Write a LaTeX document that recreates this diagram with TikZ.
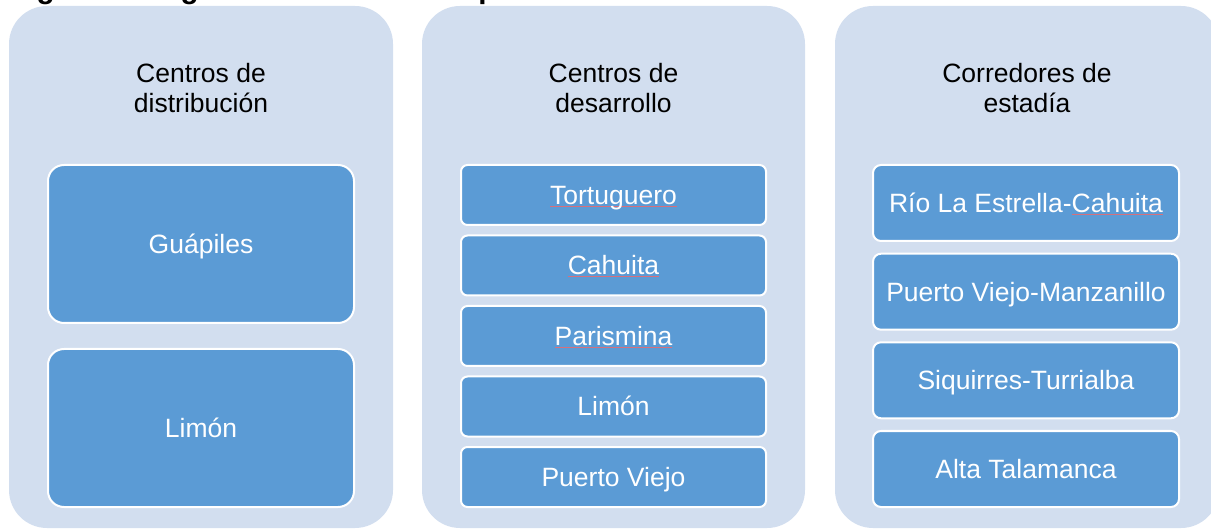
\documentclass[tikz,border=0pt]{standalone}
\usepackage{fontspec}
\setmainfont{Liberation Sans}
\definecolor{panelfill}{RGB}{210,222,239}
\definecolor{boxfill}{RGB}{91,155,213}
\definecolor{spellred}{RGB}{214,112,124}
\newcommand\spellmark[1]{\leavevmode\setbox0\hbox{#1}\rlap{\color{spellred}\vrule width\wd0 height -1.4pt depth 2.5pt}\box0}
\tikzset{
  panel/.style={fill=panelfill, draw=none, rounded corners=38pt, minimum width=384pt, minimum height=522pt, inner sep=0pt},
  hdr/.style={align=center, text=black, font=\fontsize{26.5}{30.5}\selectfont, inner sep=0pt},
  item/.style={fill=boxfill, draw=white, line width=2pt, text=white, inner sep=0pt,
    font=\fontsize{26.5}{30.5}\selectfont, text height=19pt, text depth=0pt},
  bigitem/.style={item, rounded corners=16pt, minimum width=306pt, minimum height=158pt},
  miditem/.style={item, rounded corners=6.5pt, minimum width=305pt, minimum height=60pt},
  longitem/.style={item, rounded corners=8pt, minimum width=306pt, minimum height=76pt},
  ttl/.style={font=\fontsize{29.6}{34}\selectfont\bfseries, text=black, inner sep=0pt, anchor=base west},
  spellline/.style={draw=spellred, line width=1.1pt}
}
\begin{document}
\begin{tikzpicture}[x=1pt,y=-1pt]
\useasboundingbox (0,0) rectangle (1211,529);
\clip (0,0) rectangle (1211,529);
\node[ttl] (title) at (10,-1.5) {Figura 1. Segmentación turística por centros};
% panels
\node[panel] (p1) at (201,267) {};
\node[panel, minimum width=383pt] (p2) at (613.5,267) {};
\node[panel] (p3) at (1027,267) {};
% headers
\node[hdr] (h1) at (201,88) {Centros de\\distribución};
\node[hdr] (h2) at (613.5,88) {Centros de\\desarrollo};
\node[hdr] (h3) at (1027,88) {Corredores de\\estadía};
% column 1
\node[bigitem] (a1) at (201,244) {Guápiles};
\node[bigitem] (a2) at (201,428) {Limón};
% column 2
\node[miditem] (b1) at (613.5,195) {\spellmark{Tortuguero}};
\node[miditem] (b2) at (613.5,265.5) {\spellmark{Cahuita}};
\node[miditem] (b3) at (613.5,336) {Parismina};
\node[miditem] (b4) at (613.5,406.5) {Limón};
\node[miditem] (b5) at (613.5,477) {Puerto Viejo};
\coordinate (u1) at ([xshift=-58.9pt,yshift=-11.5pt]b3.center);
\coordinate (u2) at ([xshift=58.9pt,yshift=-11.5pt]b3.center);
\path[spellline] (u1) -- (u2);
% column 3
\node[longitem] (c1) at (1026,203) {Río La Estrella-\spellmark{Cahuita}};
\node[longitem] (c2) at (1026,291.7) {Puerto Viejo-Manzanillo};
\node[longitem] (c3) at (1026,380.3) {Siquirres-Turrialba};
\node[longitem] (c4) at (1026,469) {Alta Talamanca};
\end{tikzpicture}
\end{document}
